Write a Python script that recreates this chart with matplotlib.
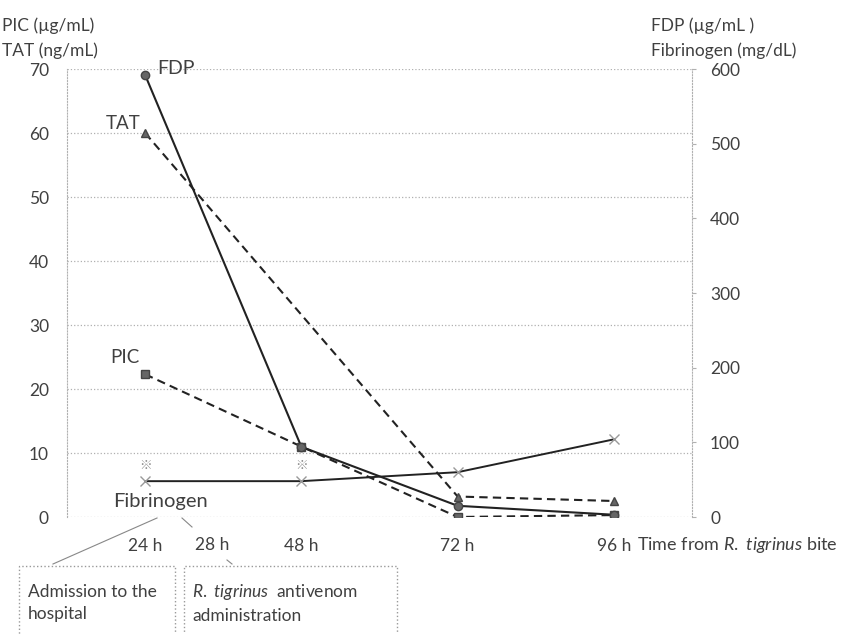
import numpy as np
import matplotlib
matplotlib.use("Agg")
import matplotlib.pyplot as plt
from matplotlib.patches import Rectangle
from matplotlib.lines import Line2D

plt.rcParams['font.family'] = ['Lato', 'DejaVu Sans', 'Noto Sans CJK JP']
plt.rcParams['mathtext.fontset'] = 'custom'
plt.rcParams['mathtext.rm'] = 'Lato'
plt.rcParams['mathtext.it'] = 'Lato:italic'

# data (hours after bite)
hours = [24, 48, 72, 96]
tick_labels = ["24 h", "48 h", "72 h", "96 h"]
fdp = [592, 94, 15, 3]            # ug/mL, right axis
fibrinogen = [48, 48, 60, 104]    # mg/dL, right axis
tat_hours = [24, 72, 96]
tat = [60, 3.2, 2.5]              # ng/mL, left axis
pic = [22.3, 11, 0, 0.3]          # ug/mL, left axis
note_hours = [24, 48]
note_vals = [8.1, 8.1]

txt = '#404040'
fs = 12.5
W, H = 853, 634

fig = plt.figure(figsize=(8.53, 6.34), dpi=100)
ax = fig.add_axes([67 / W, 1 - 517 / H, 625 / W, 448 / H])
ax2 = ax.twinx()

ax.set_xlim(12, 108)
ax.set_ylim(0, 70)
ax2.set_ylim(0, 600)
ax.set_yticks(np.arange(0, 71, 10))
ax2.set_yticks(np.arange(0, 601, 100))
ax.set_xticks(hours)
ax.set_xticklabels(tick_labels)

ax.grid(axis='y', color='#b0b0b0', linestyle=':', linewidth=0.9)
for a in (ax, ax2):
    for s in a.spines.values():
        s.set_visible(False)
ax.spines['left'].set_visible(True)
ax.spines['left'].set_linestyle(':')
ax.spines['left'].set_color('#b0b0b0')
ax2.spines['right'].set_visible(True)
ax2.spines['right'].set_linestyle(':')
ax2.spines['right'].set_color('#b0b0b0')

ax.tick_params(axis='x', length=0, pad=15, labelsize=fs, labelcolor=txt)
ax.tick_params(axis='y', length=0, pad=13, labelsize=fs, labelcolor=txt)
ax2.tick_params(axis='y', length=3, color='#b0b0b0', pad=10, labelsize=fs, labelcolor=txt)

dash = (0, (4, 2.5))
ax.plot(tat_hours, tat, color='#222222', lw=1.5, linestyle=dash,
        marker='^', ms=6, mfc='#666666', mec='#444444', zorder=3)
ax.plot(hours, pic, color='#222222', lw=1.5, linestyle=dash,
        marker='s', ms=6, mfc='#666666', mec='#444444', zorder=3)
ax2.plot(hours, fibrinogen, color='#222222', lw=1.4,
         marker='x', ms=7, mec='#999999', mew=1, zorder=3)
ax2.plot(hours, fdp, color='#222222', lw=1.5,
         marker='o', ms=6, mfc='#666666', mec='#444444', zorder=4)

for h, v in zip(note_hours, note_vals):
    ax.text(h, v, '※', ha='center', va='center', fontsize=9, color='#888888',
            family=['Noto Sans CJK JP', 'DejaVu Sans'])

# series labels
ax2.annotate('FDP', (hours[0], fdp[0]), xytext=(9, 5), textcoords='offset points',
             ha='left', va='center', fontsize=14, color=txt)
ax.annotate('TAT', (tat_hours[0], tat[0]), xytext=(-3.6, 7), textcoords='offset points',
            ha='right', va='center', fontsize=13.5, color=txt)
ax.annotate('PIC', (hours[0], pic[0]), xytext=(-25, 12), textcoords='offset points',
            ha='left', va='center', fontsize=13.5, color=txt)
ax2.annotate('Fibrinogen', (hours[0], fibrinogen[0]), xytext=(-23, -14.4), textcoords='offset points',
             ha='left', va='center', fontsize=14.5, color=txt)

# axis titles
fig.text(2 / W, 1 - 17 / H, 'PIC (µg/mL)\nTAT (ng/mL)', ha='left', va='top',
         fontsize=fs, color=txt, linespacing=1.65)
fig.text(651 / W, 1 - 17 / H, 'FDP (µg/mL )\nFibrinogen (mg/dL)', ha='left', va='top',
         fontsize=fs, color=txt, linespacing=1.65)
fig.text(637 / W, 1 - 545 / H, 'Time from $\\it{R.\\ tigrinus}$ bite', ha='left', va='center',
         fontsize=13, color=txt)
fig.text(212 / W, 1 - 545 / H, '28 h', ha='center', va='center', fontsize=fs, color=txt)

# event boxes
box_kw = dict(fill=False, edgecolor='#999999', linestyle=':', linewidth=1.0,
              transform=fig.transFigure, clip_on=False)
fig.patches.append(Rectangle((19 / W, -0.02), 156 / W, 0.02 + (634 - 566) / H, **box_kw))
fig.patches.append(Rectangle((184 / W, -0.02), 213 / W, 0.02 + (634 - 566) / H, **box_kw))
fig.text(28 / W, 1 - 603 / H, 'Admission to the\nhospital', ha='left', va='center',
         fontsize=fs, color=txt, linespacing=1.45)
fig.text(192 / W, 1 - 603 / H, '$\\it{R.\\ tigrinus}$  antivenom\nadministration', ha='left',
         va='center', fontsize=fs, color=txt, linespacing=1.45)

# leader lines
for (x0, y0, x1, y1) in [(53, 564, 157, 518), (182, 518, 192, 527), (227, 560, 232, 564)]:
    fig.lines.append(Line2D([x0 / W, x1 / W], [1 - y0 / H, 1 - y1 / H], color='#888888',
                            lw=0.8, transform=fig.transFigure))

fig.savefig('out.png', dpi=100)
